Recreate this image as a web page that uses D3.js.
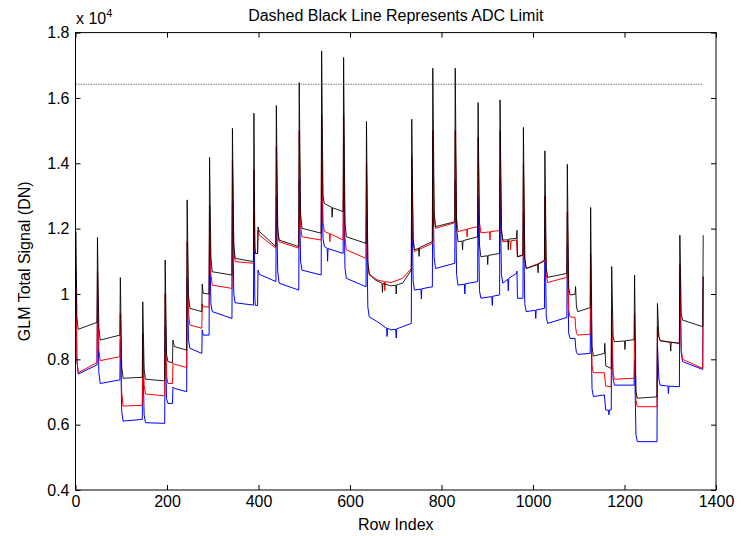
<!DOCTYPE html>
<html>
<head>
<meta charset="utf-8">
<script src="https://cdn.jsdelivr.net/npm/d3@7"></script>
<style>
  body { margin: 0; background: #fff; }
  svg { display: block; font-family: Arial, "Liberation Sans", Helvetica, sans-serif; }
</style>
</head>
<body>
<svg id="chart" width="743" height="536"></svg>
<script>
// signal per row index, vertices [row, DN]
const blackSignal = [
  [1, 11910], [3, 9300], [6, 8920], [47, 9130],
  [48, 11730], [51, 8970], [54, 8590], [97, 8740],
  [98, 10500], [101, 7780], [104, 7420], [146, 7450],
  [147, 9760], [150, 7680], [153, 7390], [195, 7340],
  [196, 11040], [199, 8150], [202, 7930], [212, 7900], [213, 8590], [216, 8390], [243, 8280],
  [244, 12880], [247, 9950], [250, 9560], [276, 9460], [277, 10300], [279, 10020], [292, 10000],
  [293, 14180], [296, 11100], [299, 10680], [342, 10580],
  [343, 15070], [346, 11500], [349, 11090], [389, 10990],
  [390, 15530], [392, 11500], [393, 11240], [398, 11240], [399, 12050], [402, 11910], [438, 11450],
  [439, 15770], [442, 12050], [445, 11650], [488, 11450],
  [489, 16470], [492, 12450], [495, 12010], [537, 11860],
  [538, 17440], [541, 13000], [544, 12770], [560, 12650], [561, 12350], [562, 12640], [585, 12520],
  [586, 17240], [589, 12200], [592, 11750], [635, 11550],
  [636, 15280], [639, 11000], [642, 10630], [655, 10430], [670, 10330], [671, 10050], [672, 10320],
  [690, 10250], [700, 10270], [701, 10000], [702, 10280], [715, 10330], [734, 10730],
  [735, 15350], [738, 11700], [741, 11350], [750, 11400], [751, 11150], [752, 11420], [780, 11600],
  [781, 16910], [784, 12500], [787, 12060], [829, 12210],
  [830, 16910], [833, 12000], [836, 11600], [845, 11620], [846, 11350], [847, 11630], [879, 11750],
  [880, 15860], [883, 11500], [886, 11140], [900, 11170], [901, 10900], [902, 11180], [927, 11240],
  [928, 15940], [931, 12000], [934, 11650], [945, 11660], [946, 11350], [947, 11680], [964, 11700],
  [965, 11950], [966, 11140], [978, 11200],
  [979, 15100], [982, 11100], [985, 10780], [1010, 10900], [1011, 10650], [1012, 10920], [1025, 11040],
  [1026, 14380], [1029, 10800], [1032, 10510], [1074, 10630],
  [1075, 13970], [1078, 10200], [1081, 9970], [1092, 9990], [1093, 10230], [1095, 9600], [1098, 9460], [1125, 9580],
  [1126, 12650], [1129, 8400], [1132, 8100], [1156, 8180], [1157, 8490], [1159, 7800], [1171, 7720],
  [1172, 10840], [1175, 8700], [1178, 8540], [1200, 8560], [1201, 8300], [1202, 8570], [1221, 8600],
  [1222, 10580], [1225, 7000], [1228, 6810], [1271, 6850],
  [1272, 9710], [1275, 8700], [1278, 8570], [1300, 8520], [1301, 8250], [1302, 8520], [1320, 8490],
  [1321, 11800], [1324, 9400], [1327, 9200], [1371, 9000],
  [1372, 11800]
];

const redSignal = [
  [1, 10270], [3, 8000], [6, 7590], [47, 7900],
  [48, 10680], [51, 8300], [54, 7960], [97, 8080],
  [98, 9400], [101, 7000], [104, 6570], [146, 6590],
  [147, 8800], [150, 7200], [153, 6940], [195, 6880],
  [196, 10000], [199, 7500], [202, 7260], [212, 7260], [213, 7880], [216, 7850], [243, 7750],
  [244, 11600], [247, 9400], [250, 9050], [276, 8950], [277, 9700], [279, 9610], [292, 9600],
  [293, 12700], [296, 10600], [299, 10270], [342, 10170],
  [343, 14100], [346, 11300], [349, 10990], [389, 10940],
  [390, 13800], [392, 11400], [393, 11240], [398, 11240], [399, 11950], [402, 11800], [438, 11400],
  [439, 14500], [442, 11900], [445, 11600], [488, 11400],
  [489, 15000], [492, 12100], [495, 11750], [537, 11650],
  [538, 15500], [541, 12200], [544, 11910], [555, 11850], [556, 11600], [557, 11840], [585, 11650],
  [586, 15500], [589, 11700], [592, 11350], [635, 11090],
  [636, 14000], [639, 10900], [642, 10580], [660, 10430], [675, 10380], [676, 10100], [677, 10380],
  [690, 10350], [715, 10480], [734, 10780],
  [735, 14200], [738, 11600], [741, 11300], [780, 11550],
  [781, 15000], [784, 12300], [787, 12010], [829, 12180],
  [830, 15000], [833, 12300], [836, 11910], [855, 11980], [856, 11750], [857, 11990], [879, 12060],
  [880, 14800], [883, 12200], [886, 11870], [905, 11900], [906, 11650], [907, 11910], [927, 11940],
  [928, 15000], [931, 11900], [934, 11600], [950, 11620], [951, 11350], [952, 11630], [964, 11650],
  [966, 11140], [978, 11180],
  [979, 14000], [982, 11100], [985, 10780], [1025, 11000],
  [1026, 13000], [1029, 10600], [1032, 10350], [1074, 10510],
  [1075, 12500], [1078, 9500], [1081, 9300], [1092, 9280], [1093, 9000], [1095, 8800], [1098, 8740], [1125, 8770],
  [1126, 11200], [1129, 7800], [1132, 7590], [1156, 7590], [1159, 7180], [1171, 7160],
  [1172, 9500], [1175, 7550], [1178, 7390], [1221, 7420],
  [1222, 9400], [1225, 6750], [1228, 6550], [1271, 6550],
  [1272, 9000], [1275, 8700], [1278, 8570], [1320, 8490],
  [1321, 10900], [1324, 8300], [1327, 8000], [1371, 7720],
  [1372, 10530]
];

const blueSignal = [
  [1, 10680], [3, 8000], [6, 7550], [47, 7830],
  [48, 9800], [51, 7600], [54, 7260], [97, 7370],
  [98, 8600], [101, 6400], [104, 6110], [146, 6160],
  [147, 8200], [150, 6300], [153, 6060], [195, 6040],
  [196, 9000], [199, 6800], [202, 6650], [212, 6650], [213, 7150], [216, 7110], [243, 7010],
  [244, 10500], [247, 8600], [250, 8340], [276, 8180], [277, 8900], [279, 8740], [292, 8740],
  [293, 11800], [296, 9700], [299, 9460], [342, 9250],
  [343, 12800], [346, 10000], [349, 9730], [389, 9660],
  [390, 12500], [392, 9900], [393, 9650], [398, 9650], [399, 10730], [402, 10600], [438, 10380],
  [439, 13000], [442, 10700], [445, 10330], [488, 10120],
  [489, 13500], [492, 11000], [495, 10730], [537, 10580],
  [538, 14000], [541, 11700], [544, 11450], [550, 11400], [551, 11000], [552, 11390], [585, 11240],
  [586, 14000], [589, 10800], [592, 10480], [635, 10220],
  [636, 12500], [639, 9600], [642, 9300], [660, 9150], [680, 8950], [681, 8700], [682, 8950],
  [690, 8900], [700, 8920], [701, 8650], [702, 8930], [715, 9000], [734, 9100],
  [735, 13000], [738, 10400], [741, 10120], [755, 10150], [756, 9850], [757, 10160], [780, 10220],
  [781, 13500], [784, 11100], [787, 10780], [829, 10940],
  [830, 13500], [833, 10600], [836, 10270], [850, 10300], [851, 10000], [852, 10310], [879, 10380],
  [880, 13000], [883, 10100], [886, 9870], [910, 9920], [911, 9650], [912, 9930], [927, 9970],
  [928, 13500], [931, 10600], [934, 10330], [945, 10450], [946, 10100], [947, 10480], [964, 10630],
  [965, 10700], [966, 9870], [978, 9870],
  [979, 12500], [982, 9700], [985, 9460], [1005, 9500], [1006, 9250], [1007, 9510], [1025, 9560],
  [1026, 12000], [1029, 9300], [1032, 9100], [1074, 9280],
  [1075, 11500], [1078, 8800], [1081, 8640], [1092, 8640], [1093, 8400], [1095, 8200], [1098, 8150], [1125, 8180],
  [1126, 10000], [1129, 7100], [1132, 6860], [1156, 6910], [1159, 6450], [1165, 6440], [1166, 6300], [1167, 6450], [1171, 6450],
  [1172, 8800], [1175, 7400], [1178, 7210], [1221, 7210],
  [1222, 8000], [1225, 5700], [1228, 5480], [1271, 5480],
  [1272, 8500], [1275, 7400], [1278, 7210], [1295, 7180], [1296, 6950], [1297, 7180], [1320, 7160],
  [1321, 10500], [1324, 8200], [1327, 7930], [1371, 7690],
  [1372, 10530]
];

const adcLimit = 16420;
const adcRows = [0, 1372];

const xTicks = [0, 200, 400, 600, 800, 1000, 1200, 1400];
const yTicks = [4000, 6000, 8000, 10000, 12000, 14000, 16000, 18000];

// blue first, black last on top
const series = [
  { name: 'blue', color: '#0000ff', opacity: 1, values: blueSignal },
  { name: 'red', color: '#ff0000', opacity: 1, values: redSignal },
  { name: 'black', color: '#000000', opacity: 0.88, values: blackSignal }
];

const svg = d3.select('#chart');
const margin = { left: 75.5, right: 27, top: 32.6, bottom: 46 };
const W = 743, H = 536;

const x = d3.scaleLinear().domain([0, 1400]).range([margin.left, W - margin.right]);
const y = d3.scaleLinear().domain([4000, 18000]).range([H - margin.bottom, margin.top]);

const line = d3.line()
  .x(d => x(d[0]))
  .y(d => y(d[1]));

svg.append('g')
  .attr('class', 'lines')
  .selectAll('path')
  .data(series)
  .join('path')
  .attr('d', d => line(d.values))
  .attr('fill', 'none')
  .attr('stroke', d => d.color)
  .attr('stroke-opacity', d => d.opacity)
  .attr('stroke-width', 1)
  .attr('stroke-linejoin', 'round');

// ADC limit
svg.append('line')
  .attr('x1', x(adcRows[0]))
  .attr('x2', x(adcRows[1]))
  .attr('y1', y(adcLimit))
  .attr('y2', y(adcLimit))
  .attr('stroke', '#444')
  .attr('stroke-width', 0.7)
  .attr('stroke-dasharray', '1.5,1');

// axes, MATLAB style: inward ticks on all four sides
const fmtY = d => d3.format('~g')(d / 1e4);

const axes = [
  { axis: d3.axisBottom(x).tickValues(xTicks).tickFormat(d3.format('d')), at: `translate(0,${y(4000)})` },
  { axis: d3.axisTop(x).tickValues(xTicks).tickFormat(''), at: `translate(0,${y(18000)})` },
  { axis: d3.axisLeft(y).tickValues(yTicks).tickFormat(fmtY), at: `translate(${x(0)},0)` },
  { axis: d3.axisRight(y).tickValues(yTicks).tickFormat(''), at: `translate(${x(1400)},0)` }
];

axes.forEach(a => {
  const g = svg.append('g')
    .attr('transform', a.at)
    .call(a.axis.tickSizeInner(-5).tickSizeOuter(0).tickPadding(6));
  g.select('.domain').remove();
  g.selectAll('line').attr('stroke', '#000');
  g.selectAll('text')
    .attr('fill', '#000')
    .attr('font-size', 16)
    .attr('font-family', 'Arial, "Liberation Sans", sans-serif');
});

svg.append('rect')
  .attr('x', x(0))
  .attr('y', y(18000))
  .attr('width', x(1400) - x(0))
  .attr('height', y(4000) - y(18000))
  .attr('fill', 'none')
  .attr('stroke', '#000')
  .attr('stroke-width', 1);

// exponent label
const expo = svg.append('text')
  .attr('x', 76)
  .attr('y', 24)
  .attr('font-size', 16)
  .attr('fill', '#000');
expo.append('tspan').text('x 10');
expo.append('tspan').attr('font-size', 11).attr('dy', -7).text('4');

svg.append('text')
  .attr('x', (x(0) + x(1400)) / 2)
  .attr('y', 21)
  .attr('text-anchor', 'middle')
  .attr('font-size', 16)
  .attr('fill', '#000')
  .text('Dashed Black Line Represents ADC Limit');

svg.append('text')
  .attr('x', (x(0) + x(1400)) / 2)
  .attr('y', 530)
  .attr('text-anchor', 'middle')
  .attr('font-size', 16)
  .attr('fill', '#000')
  .text('Row Index');

svg.append('text')
  .attr('transform', `translate(30,${(y(4000) + y(18000)) / 2}) rotate(-90)`)
  .attr('text-anchor', 'middle')
  .attr('font-size', 16)
  .attr('fill', '#000')
  .text('GLM Total Signal (DN)');
</script>
</body>
</html>
